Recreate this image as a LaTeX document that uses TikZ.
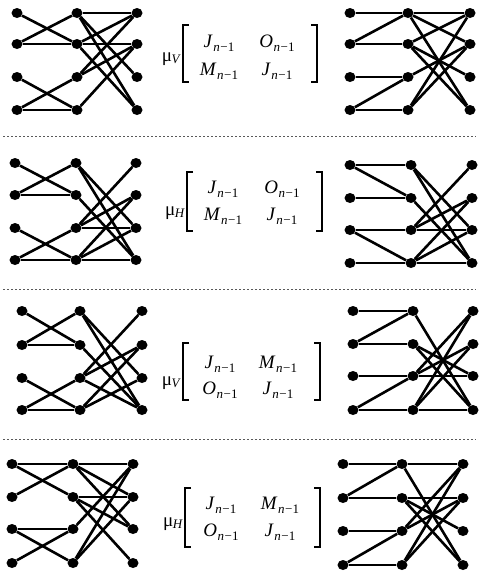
\documentclass[tikz,border=0pt]{standalone}
\usepackage{fontspec}
\setmainfont{Liberation Serif}
\usetikzlibrary{shapes.geometric,calc}
% entries of the block matrices: italic letter with subscript n-1
\newcommand{\blk}[1]{{\fontsize{19}{22}\selectfont\textit{#1}}\kern0.6pt\raisebox{-4.2pt}{\fontsize{13}{14}\selectfont\textit{n}\kern0.4pt−\kern0.3pt1}}
\newcommand{\muop}[1]{{\fontsize{19}{22}\selectfont μ}\kern-0.5pt\raisebox{-2.5pt}{\fontsize{13}{14}\selectfont\textit{#1}}}
\tikzset{
  dot/.style={ellipse,fill=black,draw=none,minimum width=11pt,minimum height=10pt,inner sep=0pt},
  edge/.style={line width=2.6pt},
  flat/.style={line width=1.9pt},
  sep/.style={line width=0.7pt,dash pattern=on 2pt off 2pt,draw=black!65},
  brk/.style={line width=1.4pt},
  entry/.style={anchor=base,inner sep=0pt},
  opname/.style={anchor=base east,inner sep=0pt}
}
% three columns a,b,c of four dots each
\newcommand{\placegraph}[8]{%
  \foreach \c/\x in {a/#2,b/#3,c/#4}
    \foreach \r/\y in {1/#5,2/#6,3/#7,4/#8}
      \node[dot] (#1\c\r) at (\x,\y) {};}
\newcommand{\links}[3]{\foreach \u/\v in {#3} \draw[#2] (#1\u) -- (#1\v);}
% bracketed 2x2 block matrix with operator name
\newcommand{\blockmatrix}[8]{%
  % #1 name, #2 xleft, #3 xright, #4 ytop, #5 ybottom, #6 operator baseline, #7 operator, #8 entries
  \coordinate (#1tl) at (#2,#4); \coordinate (#1bl) at (#2,#5);
  \coordinate (#1tr) at (#3,#4); \coordinate (#1br) at (#3,#5);
  \draw[brk] ([xshift=6pt]#1tl) -- (#1tl) -- (#1bl) -- ([xshift=6pt]#1bl);
  \draw[brk] ([xshift=-6pt]#1tr) -- (#1tr) -- (#1br) -- ([xshift=-6pt]#1br);
  \node[opname] (#1op) at ([xshift=-2pt]#1tl |- 0,#6) {\muop{#7}};
  \foreach \e/\xx/\yy [count=\k] in {#8}
    \node[entry] (#1e\k) at (\xx,\yy) {\blk{\e}};}
\begin{document}
\begin{tikzpicture}[x=1pt,y=-1pt]
\useasboundingbox (0,0) rectangle (479,574);
\fill[white] (0,0) rectangle (479,574);

% separators
\foreach \yy/\nm in {136/s1,289/s2,439/s3}{
  \coordinate (\nm w) at (3,\yy); \coordinate (\nm e) at (476,\yy);
  \draw[sep] (\nm w) -- (\nm e);}

% ---------- first row ----------
\placegraph{A}{17}{77}{137}{13}{44}{77}{110}
\links{A}{edge}{a1/b2,a2/b1,a3/b4,a4/b3,b1/c3,b1/c4,b2/c1,b2/c4,b3/c1,b3/c2,b4/c2}
\links{A}{flat}{a2/b2,a4/b4,b1/c1,b2/c2}
\placegraph{B}{350}{408}{470}{13}{44}{77}{110}
\links{B}{edge}{a2/b1,a4/b3,b1/c2,b1/c4,b2/c1,b2/c3,b2/c4,b3/c2,b4/c1,b4/c2}
\links{B}{flat}{a1/b1,a2/b2,a3/b3,a4/b4,b1/c1}
\blockmatrix{m1}{183}{317}{25}{82}{61}{V}{J/219/47,O/277/47,M/219/75,J/277/75}

% ---------- second row ----------
\placegraph{C}{15}{76}{136}{163}{195}{228}{260}
\links{C}{edge}{a1/b2,a2/b1,a3/b4,a4/b3,b1/c3,b1/c4,b2/c4,b3/c1,b3/c2,b4/c2,b4/c3}
\links{C}{flat}{a2/b2,a4/b4,b3/c3,b4/c4}
\placegraph{D}{350}{411}{472}{165}{198}{230}{263}
\links{D}{edge}{a1/b2,a3/b4,b1/c3,b1/c4,b2/c4,b3/c1,b3/c2,b4/c2,b4/c3}
\links{D}{flat}{a1/b1,a2/b2,a3/b3,a4/b4,b3/c3,b4/c4}
\blockmatrix{m2}{187}{322}{172}{231}{215}{H}{J/223/193,O/282/193,M/223/220,J/282/220}

% ---------- third row ----------
\placegraph{E}{22}{80}{142}{311}{345}{378}{410}
\links{E}{edge}{a1/b2,a2/b1,a3/b4,a4/b3,b1/c3,b1/c4,b2/c4,b3/c1,b3/c2,b3/c4,b4/c2,b4/c3}
\links{E}{flat}{a2/b2,a4/b4}
\placegraph{F}{353}{413}{473}{311}{344}{376}{410}
\links{F}{edge}{a2/b1,a4/b3,b1/c4,b2/c3,b2/c4,b3/c1,b3/c2,b4/c1,b4/c2}
\links{F}{flat}{a1/b1,a2/b2,a3/b3,a4/b4,b3/c3,b4/c4}
\blockmatrix{m3}{183}{320}{343}{400}{385}{V}{J/220/368,M/278/368,O/220/394,J/278/394}

% ---------- fourth row ----------
\placegraph{G}{12}{73}{133}{464}{497}{529}{563}
\links{G}{edge}{a1/b2,a2/b1,a3/b4,a4/b3,b1/c2,b1/c3,b2/c3,b2/c4,b3/c1,b4/c1,b4/c2}
\links{G}{flat}{a1/b1,a3/b3,b1/c1,b2/c2}
\placegraph{H}{343}{402}{463}{464}{498}{531}{565}
\links{H}{edge}{a2/b1,a4/b3,b1/c4,b2/c3,b2/c4,b3/c1,b3/c2,b4/c1,b4/c2}
\links{H}{flat}{a1/b1,a2/b2,a3/b3,a4/b4,b1/c1,b2/c2}
\blockmatrix{m4}{185}{320}{488}{547}{526}{H}{J/221/509,M/280/509,O/221/536,J/280/536}
\end{tikzpicture}
\end{document}
